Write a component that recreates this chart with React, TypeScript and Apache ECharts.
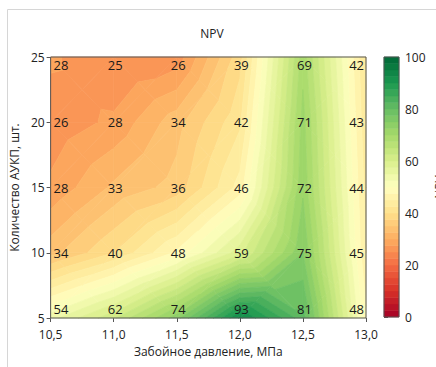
import React, { useEffect, useRef } from 'react';
import * as echarts from 'echarts';

// Grid of the contour plot
const xValues = [10.5, 11.0, 11.5, 12.0, 12.5, 13.0];
const yValues = [5, 10, 15, 20, 25];
// NPV values, rows follow yValues, columns follow xValues
const npvRows = [
  [54, 62, 74, 93, 81, 48], // 5
  [34, 40, 48, 59, 75, 45], // 10
  [28, 33, 36, 46, 72, 44], // 15
  [26, 28, 34, 42, 71, 43], // 20
  [28, 25, 26, 39, 69, 42], // 25
];
const colorbarTicks = [0, 20, 40, 60, 80, 100];
const levelStep = 2.5;
const levels: number[] = [];
for (let l = 0; l <= 100 + 1e-9; l += levelStep) levels.push(l);

const rdylgn = ['#a50026', '#d73027', '#f46d43', '#fdae61', '#fee08b', '#ffffbf', '#d9ef8b', '#a6d96a', '#66bd63', '#1a9850', '#006837'];
function hex(c: string) {
  return [parseInt(c.slice(1, 3), 16), parseInt(c.slice(3, 5), 16), parseInt(c.slice(5, 7), 16)];
}
function cmap(t: number) {
  t = Math.max(0, Math.min(1, t));
  const f = t * (rdylgn.length - 1);
  const i = Math.min(rdylgn.length - 2, Math.floor(f));
  const r = f - i;
  const a = hex(rdylgn[i]);
  const b = hex(rdylgn[i + 1]);
  const c = a.map((v, k) => Math.round(v + (b[k] - v) * r));
  return `rgb(${c[0]},${c[1]},${c[2]})`;
}
function bandColor(k: number) {
  return cmap((levels[k] + levels[k + 1]) / 2 / 100);
}

type P = { x: number; y: number; v: number };
function clip(poly: P[], t: number, above: boolean): P[] {
  const out: P[] = [];
  for (let i = 0; i < poly.length; i++) {
    const a = poly[i];
    const b = poly[(i + 1) % poly.length];
    const ain = above ? a.v >= t : a.v <= t;
    const bin = above ? b.v >= t : b.v <= t;
    if (ain) out.push(a);
    if (ain !== bin) {
      const r = (t - a.v) / (b.v - a.v);
      out.push({ x: a.x + r * (b.x - a.x), y: a.y + r * (b.y - a.y), v: t });
    }
  }
  return out;
}

const FONT = '"Open Sans", "DejaVu Sans", sans-serif';
const fmt = (v: number) => v.toFixed(1).replace('.', ',');

export default function App() {
  const ref = useRef<HTMLDivElement>(null);
  useEffect(() => {
    if (!ref.current) return;
    const chart = echarts.init(ref.current, undefined, { renderer: 'svg' });

    const cells: number[][] = [];
    for (let j = 0; j < yValues.length - 1; j++)
      for (let i = 0; i < xValues.length - 1; i++) cells.push([i, j]);
    const points: number[][] = [];
    for (let j = 0; j < yValues.length; j++)
      for (let i = 0; i < xValues.length; i++) points.push([xValues[i], yValues[j], npvRows[j][i], i, j]);
    const bands = levels.slice(0, -1).map((_, k) => [0, k]);

    const contourItem = (params: any, api: any) => {
      const idx = params.dataIndex;
      const [i, j] = cells[idx];
      const corner = (ii: number, jj: number): P => {
        const c = api.coord([xValues[ii], yValues[jj]]);
        return { x: c[0], y: c[1], v: npvRows[jj][ii] };
      };
      const bl = corner(i, j), br = corner(i + 1, j), tr = corner(i + 1, j + 1), tl = corner(i, j + 1);
      const ctr: P = {
        x: (bl.x + br.x + tr.x + tl.x) / 4,
        y: (bl.y + br.y + tr.y + tl.y) / 4,
        v: (bl.v + br.v + tr.v + tl.v) / 4,
      };
      const tris = [[bl, br, ctr], [br, tr, ctr], [tr, tl, ctr], [tl, bl, ctr]];
      const children: any[] = [];
      for (const tri of tris) {
        const mn = Math.min(...tri.map((p) => p.v));
        const mx = Math.max(...tri.map((p) => p.v));
        for (let k = 0; k < levels.length - 1; k++) {
          const lo = levels[k], hi = levels[k + 1];
          if (mx < lo || mn > hi) continue;
          const poly = clip(clip(tri, lo, true), hi, false);
          if (poly.length < 3) continue;
          const col = bandColor(k);
          children.push({
            type: 'polygon',
            shape: { points: poly.map((p) => [p.x, p.y]) },
            style: { fill: col, stroke: col, lineWidth: 0.7 },
          });
        }
      }
      return { type: 'group', children };
    };

    const frameItem = (params: any, api: any) => {
      const a = api.coord([xValues[0], yValues[0]]);
      const b = api.coord([xValues[xValues.length - 1], yValues[yValues.length - 1]]);
      return {
        type: 'rect',
        shape: { x: a[0], y: b[1], width: b[0] - a[0], height: a[1] - b[1] },
        style: { fill: 'none', stroke: '#555', lineWidth: 1 },
      };
    };

    const labelItem = (params: any, api: any) => {
      const d = points[params.dataIndex];
      const p = api.coord([d[0], d[1]]);
      const i = d[3], j = d[4];
      let x = p[0] + 1.5, align = 'center';
      if (i === 0) { x = p[0] + 3; align = 'left'; }
      else if (i === xValues.length - 1) { x = p[0] - 2; align = 'right'; }
      let y = p[1], va = 'middle';
      if (j === yValues.length - 1) { y = p[1] + 1; va = 'top'; }
      else if (j === 0) { y = p[1] - 3; va = 'bottom'; }
      return {
        type: 'text',
        x, y,
        style: {
          text: String(d[2]),
          fill: '#1a1a1a',
          font: `13px ${FONT}`,
          align,
          verticalAlign: va,
        },
      };
    };

    const colorbarItem = (params: any, api: any) => {
      const k = params.dataIndex;
      const p0 = api.coord([0, levels[k]]);
      const p1 = api.coord([1, levels[k + 1]]);
      const col = bandColor(k);
      const children: any[] = [{
        type: 'rect',
        shape: { x: p0[0], y: p1[1], width: p1[0] - p0[0], height: p0[1] - p1[1] },
        style: { fill: col, stroke: col, lineWidth: 0.5 },
      }];
      if (k === levels.length - 2) {
        const a = api.coord([0, levels[0]]);
        const b = api.coord([1, levels[levels.length - 1]]);
        children.push({
          type: 'rect',
          shape: { x: a[0], y: b[1], width: b[0] - a[0], height: a[1] - b[1] },
          style: { fill: 'none', stroke: '#555', lineWidth: 1 },
          z2: 10,
        });
      }
      return { type: 'group', children };
    };

    const axisLabelStyle = { color: '#222', fontSize: 12, fontFamily: FONT };

    chart.setOption({
      animation: false,
      backgroundColor: '#fff',
      title: {
        text: 'NPV',
        left: 207,
        top: 22,
        textAlign: 'center',
        textStyle: { fontSize: 12, fontWeight: 'normal', color: '#222', fontFamily: FONT },
      },
      graphic: [
        {
          type: 'polyline',
          shape: { points: [[7.5, 367], [7.5, 9.5], [436, 9.5]] },
          style: { stroke: '#d6d6d6', lineWidth: 1, fill: 'none' },
        },
        {
          type: 'text',
          x: 439,
          y: 187,
          rotation: Math.PI / 2,
          style: { text: 'NPV', font: `12px ${FONT}`, fill: '#333', align: 'center', verticalAlign: 'middle' },
        },
      ],
      grid: [
        { left: 48, top: 57, width: 318, height: 261 },
        { left: 384, top: 57, width: 15, height: 260 },
      ],
      xAxis: [
        {
          type: 'value', gridIndex: 0, min: 10.5, max: 13, interval: 0.5,
          axisLine: { show: false },
          axisTick: { show: true, length: 4, lineStyle: { color: '#555' } },
          splitLine: { show: false },
          axisLabel: { ...axisLabelStyle, margin: 10, lineHeight: 12, formatter: fmt },
          name: 'Забойное давление, МПа',
          nameLocation: 'middle',
          nameGap: 27,
          nameTextStyle: { ...axisLabelStyle },
        },
        { type: 'value', gridIndex: 1, min: 0, max: 1, show: false },
      ],
      yAxis: [
        {
          type: 'value', gridIndex: 0, min: 5, max: 25, interval: 5,
          axisLine: { show: false },
          axisTick: { show: true, length: 4, lineStyle: { color: '#555' } },
          splitLine: { show: false },
          axisLabel: { ...axisLabelStyle, margin: 6, lineHeight: 12 },
          name: 'Количество АУКП, шт.',
          nameLocation: 'middle',
          nameGap: 28,
          nameTextStyle: { ...axisLabelStyle },
        },
        {
          type: 'value', gridIndex: 1, min: colorbarTicks[0], max: colorbarTicks[colorbarTicks.length - 1],
          interval: colorbarTicks[1] - colorbarTicks[0],
          position: 'right',
          axisLine: { show: false },
          axisTick: { show: true, length: 4, lineStyle: { color: '#555' } },
          splitLine: { show: false },
          axisLabel: { ...axisLabelStyle, margin: 6 },
        },
      ],
      series: [
        { type: 'custom', coordinateSystem: 'cartesian2d', xAxisIndex: 0, yAxisIndex: 0, data: cells, renderItem: contourItem, silent: true },
        { type: 'custom', coordinateSystem: 'cartesian2d', xAxisIndex: 0, yAxisIndex: 0, data: [[10.5, 5]], renderItem: frameItem, silent: true },
        { type: 'custom', coordinateSystem: 'cartesian2d', xAxisIndex: 0, yAxisIndex: 0, data: points, renderItem: labelItem, silent: true },
        { type: 'custom', coordinateSystem: 'cartesian2d', xAxisIndex: 1, yAxisIndex: 1, data: bands, renderItem: colorbarItem, silent: true },
      ],
    });
    return () => chart.dispose();
  }, []);
  return <div ref={ref} style={{ position: 'fixed', left: 0, top: 0, width: 436, height: 367 }} />;
}
